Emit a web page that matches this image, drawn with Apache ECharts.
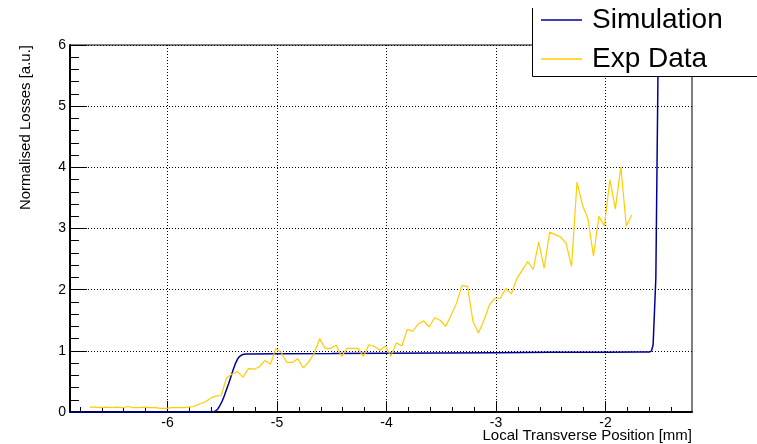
<!DOCTYPE html>
<html>
<head>
<meta charset="utf-8">
<script src="https://cdn.jsdelivr.net/npm/echarts@6/dist/echarts.min.js"></script>
<style>
  html, body { margin: 0; padding: 0; background: #fff; }
  #chart { width: 757px; height: 444px; }
</style>
</head>
<body>
<div id="chart"></div>
<script>
// Simulated loss profile (x in mm, normalised losses)
const simX = [-6.9, -5.6, -5.58, -5.56, -5.54, -5.52, -5.50, -5.48, -5.46, -5.44, -5.42, -5.40,
  -5.38, -5.36, -5.34, -5.32, -5.30, -5.28, -5.24, -5.0, -4.5, -4.0, -3.5, -3.0, -2.5, -2.0,
  -1.7, -1.6, -1.58, -1.565, -1.54, -1.52, -1.50];
const simY = [0, 0, 0.004, 0.016, 0.05, 0.11, 0.18, 0.27, 0.37, 0.47, 0.58, 0.69,
  0.79, 0.865, 0.91, 0.935, 0.943, 0.948, 0.95, 0.952, 0.955, 0.96, 0.965, 0.97, 0.975, 0.978,
  0.98, 0.98, 1.0, 1.1, 2.2, 5.65, 9.0];

// Measured losses
const expX = [-6.71, -6.66, -6.61, -6.56, -6.51, -6.46, -6.41, -6.36, -6.31, -6.26,
  -6.21, -6.16, -6.11, -6.06, -6.01, -5.96, -5.91, -5.86, -5.81, -5.76,
  -5.71, -5.66, -5.61, -5.56, -5.51, -5.46, -5.41, -5.36, -5.31, -5.26,
  -5.21, -5.16, -5.11, -5.06, -5.01, -4.96, -4.91, -4.86, -4.81, -4.76,
  -4.71, -4.66, -4.61, -4.56, -4.51, -4.46, -4.41, -4.36, -4.31, -4.26,
  -4.21, -4.16, -4.11, -4.06, -4.01, -3.96, -3.91, -3.86, -3.81, -3.76,
  -3.71, -3.66, -3.61, -3.56, -3.51, -3.46, -3.41, -3.36, -3.31, -3.26,
  -3.21, -3.16, -3.11, -3.06, -3.01, -2.96, -2.91, -2.86, -2.81, -2.76,
  -2.71, -2.66, -2.61, -2.56, -2.51, -2.46, -2.41, -2.36, -2.31, -2.26,
  -2.21, -2.16, -2.11, -2.06, -2.01, -1.96, -1.91, -1.86, -1.81, -1.76];
const expY = [0.08, 0.08, 0.07, 0.08, 0.07, 0.08, 0.07, 0.09, 0.07, 0.07,
  0.08, 0.07, 0.07, 0.06, 0.06, 0.07, 0.07, 0.07, 0.08, 0.09,
  0.13, 0.16, 0.22, 0.26, 0.27, 0.56, 0.62, 0.66, 0.57, 0.71,
  0.70, 0.74, 0.84, 0.78, 1.04, 0.97, 0.81, 0.81, 0.87, 0.72,
  0.82, 0.96, 1.20, 1.04, 1.04, 1.09, 0.91, 1.04, 1.04, 1.04,
  0.91, 1.10, 1.07, 1.01, 1.08, 0.91, 1.13, 1.08, 1.35, 1.32,
  1.44, 1.49, 1.39, 1.54, 1.50, 1.40, 1.58, 1.78, 2.07, 2.05,
  1.48, 1.29, 1.50, 1.75, 1.86, 1.86, 2.02, 1.93, 2.18, 2.32,
  2.46, 2.33, 2.78, 2.35, 2.94, 2.90, 2.86, 2.76, 2.38, 3.76,
  3.38, 3.16, 2.55, 3.20, 3.04, 3.80, 3.32, 4.01, 3.04, 3.22];

// Axis ranges and tick positions
const xRange = [-6.89, -1.21];
const xMajorTicks = [-6, -5, -4, -3, -2];
const xMinorTicks = [-6.8, -6.6, -6.4, -6.2, -5.8, -5.6, -5.4, -5.2, -4.8, -4.6, -4.4, -4.2,
  -3.8, -3.6, -3.4, -3.2, -2.8, -2.6, -2.4, -2.2, -1.8, -1.6, -1.4];
const yRange = [0, 6];

const xTitle = 'Local Transverse Position [mm]';
const yTitle = 'Normalised Losses [a.u.]';

const FONT = '"Liberation Sans", Arial, sans-serif';
const chart = echarts.init(document.getElementById('chart'), null, { renderer: 'canvas' });

const zip = (xs, ys) => xs.map((x, i) => [x, ys[i]]);

chart.setOption({
  animation: false,
  backgroundColor: '#fff',
  textStyle: { fontFamily: FONT, color: '#000' },
  grid: {
    left: 70, right: 65, top: 45, bottom: 32,
    containLabel: false, outerBoundsMode: 'none',
    show: true, borderColor: '#000', borderWidth: 1, backgroundColor: 'transparent'
  },
  xAxis: [{
    type: 'value', min: xRange[0], max: xRange[1],
    position: 'bottom',
    axisLine: { show: true, onZero: false, lineStyle: { color: '#000', width: 2 } },
    axisTick: { show: true, inside: true, length: 11, customValues: xMajorTicks,
      lineStyle: { color: '#000', width: 1 } },
    axisLabel: { show: true, customValues: xMajorTicks, margin: 4,
      fontSize: 14, color: '#000', fontFamily: FONT },
    splitLine: { show: true, lineStyle: { color: '#000', type: [1, 2], width: 1 } }
  }, {
    type: 'value', min: xRange[0], max: xRange[1],
    position: 'bottom', gridIndex: 0,
    axisLine: { show: false },
    axisTick: { show: true, inside: true, length: 5, customValues: xMinorTicks,
      lineStyle: { color: '#000', width: 1 } },
    axisLabel: { show: false },
    splitLine: { show: false }
  }],
  yAxis: {
    type: 'value', min: yRange[0], max: yRange[1], interval: 1,
    axisLine: { show: true, onZero: false, lineStyle: { color: '#000', width: 2 } },
    axisTick: { show: true, inside: true, length: 17, lineStyle: { color: '#000', width: 1 } },
    minorTick: { show: true, splitNumber: 5, length: 9, lineStyle: { color: '#000', width: 1 } },
    axisLabel: { margin: 4, fontSize: 14, color: '#000', fontFamily: FONT },
    splitLine: { show: true, lineStyle: { color: '#000', type: [1, 2], width: 1 } },
    name: yTitle,
    nameLocation: 'end', nameGap: 0, nameRotate: 90,
    nameTextStyle: { fontSize: 15, color: '#000', fontFamily: FONT,
      align: 'right', verticalAlign: 'bottom', padding: [0, 0, 37, 0] }
  },
  legend: {
    orient: 'vertical', left: 541, top: 5, padding: 0,
    icon: 'rect', itemWidth: 41, itemHeight: 1.5, itemGap: 9,
    textStyle: { fontSize: 28, lineHeight: 30, color: '#000', fontFamily: FONT,
      padding: [0, 0, 0, 5] },
    data: ['Simulation', 'Exp Data'],
    z: 200
  },
  graphic: [{
    type: 'rect', z: 100,
    shape: { x: 532, y: 8, width: 240, height: 69 },
    style: { fill: '#fff', stroke: null }
  }, {
    type: 'polyline', z: 101,
    shape: { points: [[532.5, 8], [532.5, 76.5], [760, 76.5]] },
    style: { stroke: '#000', lineWidth: 1, fill: null }
  }, {
    // x-axis title, right-aligned under the end of the axis
    type: 'text', right: 65, top: 428,
    style: { text: xTitle, fontSize: 15, fontFamily: FONT, fill: '#000' }
  }],
  series: [{
    name: 'Simulation', type: 'line', xAxisIndex: 0,
    data: zip(simX, simY), symbol: 'none', clip: true,
    lineStyle: { color: '#000099', width: 1.5 }, itemStyle: { color: '#000099' }, z: 3
  }, {
    name: 'Exp Data', type: 'line', xAxisIndex: 0,
    data: zip(expX, expY), symbol: 'none', clip: true,
    lineStyle: { color: '#ffcc00', width: 1.2 }, itemStyle: { color: '#ffcc00' }, z: 4
  }]
});
</script>
</body>
</html>
